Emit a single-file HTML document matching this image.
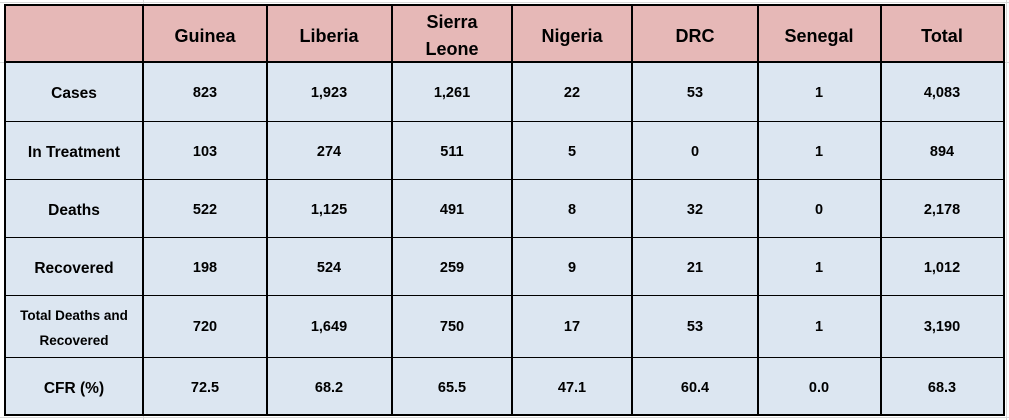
<!DOCTYPE html>
<html><head><meta charset="utf-8"><style>
html,body{margin:0;padding:0;background:#fff;width:1009px;height:420px;overflow:hidden}
svg text{font-family:"Liberation Sans",Arial,sans-serif;font-weight:bold;fill:#000;text-anchor:middle}
.h{font-size:18px}.b{font-size:14.5px}.l{font-size:15.5px}.s{font-size:13.5px}
</style></head><body>
<svg width="1009" height="420" xmlns="http://www.w3.org/2000/svg">
<g stroke="#d9d9d9" stroke-width="1">
<line x1="0" y1="2.5" x2="1009" y2="2.5"/><line x1="0" y1="62.5" x2="1009" y2="62.5"/><line x1="0" y1="417.5" x2="1009" y2="417.5"/>
<line x1="143.5" y1="0" x2="143.5" y2="420"/><line x1="1006.5" y1="0" x2="1006.5" y2="420"/>
</g>
<rect x="5" y="5" width="999" height="57" fill="#E6B8B7"/>
<rect x="5" y="62" width="999" height="353" fill="#DCE6F1"/>
<g stroke="#000" stroke-width="1">
<line x1="5" y1="121.5" x2="1004" y2="121.5"/>
<line x1="5" y1="179.5" x2="1004" y2="179.5"/>
<line x1="5" y1="237.5" x2="1004" y2="237.5"/>
<line x1="5" y1="295.5" x2="1004" y2="295.5"/>
<line x1="5" y1="357.5" x2="1004" y2="357.5"/>
</g>
<g stroke="#000" stroke-width="2">
<line x1="5" y1="62" x2="1004" y2="62"/>
<line x1="143" y1="5" x2="143" y2="415"/>
<line x1="267" y1="5" x2="267" y2="415"/>
<line x1="392" y1="5" x2="392" y2="415"/>
<line x1="512" y1="5" x2="512" y2="415"/>
<line x1="632" y1="5" x2="632" y2="415"/>
<line x1="758" y1="5" x2="758" y2="415"/>
<line x1="881" y1="5" x2="881" y2="415"/>
<rect x="5" y="5" width="999" height="410" fill="none"/>
</g>
<g class="h">
<text x="205" y="42">Guinea</text><text x="329" y="42">Liberia</text>
<text x="452" y="28">Sierra</text><text x="452" y="55">Leone</text>
<text x="572" y="42">Nigeria</text><text x="695" y="42">DRC</text>
<text x="819" y="42">Senegal</text><text x="942" y="42">Total</text>
</g>
<g class="l">
<text x="74" y="98">Cases</text><text x="74" y="157">In Treatment</text><text x="74" y="215">Deaths</text><text x="74" y="273">Recovered</text><text x="74" y="393">CFR (%)</text>
</g>
<g class="b">
<text x="205" y="97">823</text><text x="329" y="97">1,923</text><text x="452" y="97">1,261</text><text x="572" y="97">22</text><text x="695" y="97">53</text><text x="819" y="97">1</text><text x="942" y="97">4,083</text>
<text x="205" y="156">103</text><text x="329" y="156">274</text><text x="452" y="156">511</text><text x="572" y="156">5</text><text x="695" y="156">0</text><text x="819" y="156">1</text><text x="942" y="156">894</text>
<text x="205" y="214">522</text><text x="329" y="214">1,125</text><text x="452" y="214">491</text><text x="572" y="214">8</text><text x="695" y="214">32</text><text x="819" y="214">0</text><text x="942" y="214">2,178</text>
<text x="205" y="272">198</text><text x="329" y="272">524</text><text x="452" y="272">259</text><text x="572" y="272">9</text><text x="695" y="272">21</text><text x="819" y="272">1</text><text x="942" y="272">1,012</text>
<text x="205" y="331">720</text><text x="329" y="331">1,649</text><text x="452" y="331">750</text><text x="572" y="331">17</text><text x="695" y="331">53</text><text x="819" y="331">1</text><text x="942" y="331">3,190</text>
<text x="205" y="392">72.5</text><text x="329" y="392">68.2</text><text x="452" y="392">65.5</text><text x="572" y="392">47.1</text><text x="695" y="392">60.4</text><text x="819" y="392">0.0</text><text x="942" y="392">68.3</text>
</g>
<g class="s"><text x="74" y="320">Total Deaths and</text><text x="74" y="345">Recovered</text></g>
</svg>
</body></html>
